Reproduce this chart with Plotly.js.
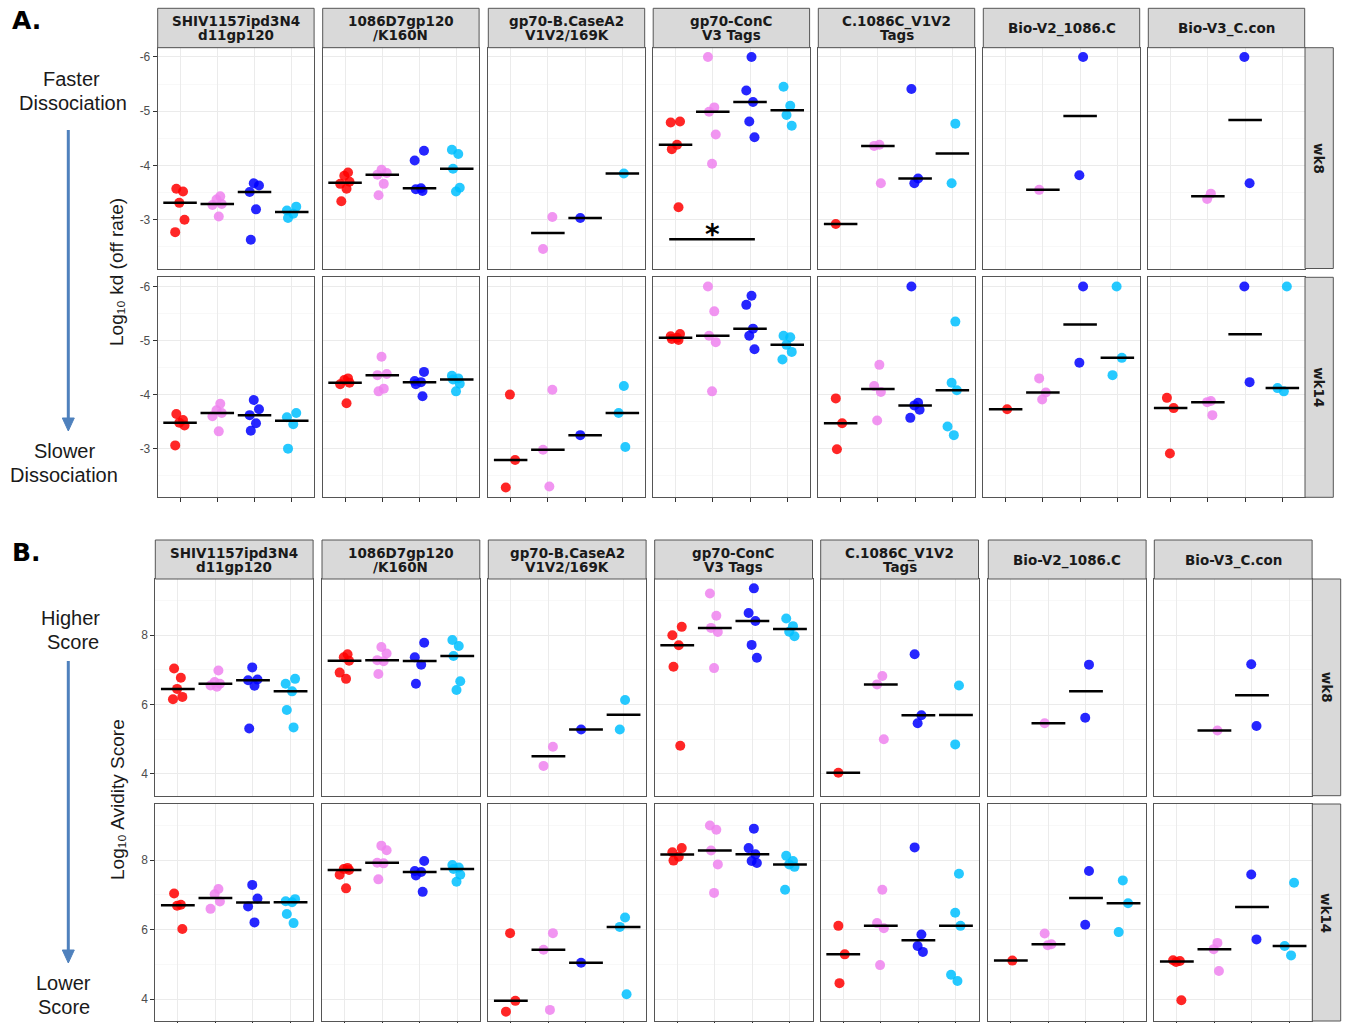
<!DOCTYPE html>
<html><head><meta charset="utf-8">
<script src="https://cdn.plot.ly/plotly-3.0.1.min.js"></script>
<style>html,body{margin:0;padding:0;background:#fff}#chart{width:1346px;height:1023px}</style>
</head><body><div id="chart"></div>
<script>
// ---------------- DATA ----------------
const antigens = [["SHIV1157ipd3N4","d11gp120"],["1086D7gp120","/K160N"],["gp70-B.CaseA2","V1V2/169K"],["gp70-ConC","V3 Tags"],["C.1086C_V1V2","Tags"],["Bio-V2_1086.C"],["Bio-V3_C.con"]];
const weeks = ["wk8","wk14"];
const groupColors = ["#ff0000","#ee82ee","#0000ff","#00bfff"];

const kdTicks = [-6,-5,-4,-3];
const kdTickText = ["-6","-5","-4","-3"];
const avidityTicks = [4,6,8];
const avidityTickText = ["4","6","8"];

// Panel A: Log10 kd (off rate), week 8, one list per antigen
const kd_wk8_red    = [[-3.57,-3.52,-3.31,-3.0,-2.77],[-3.87,-3.81,-3.70,-3.66,-3.57,-3.34],[],[-4.81,-4.79,-4.38,-4.30,-3.23],[-2.92],[],[]];
const kd_wk8_violet = [[-3.43,-3.37,-3.29,-3.27,-3.06],[-3.92,-3.86,-3.83,-3.66,-3.45],[-3.05,-2.46],[-6.0,-5.07,-4.99,-4.57,-4.03],[-4.38,-4.36,-3.67],[-3.55],[-3.48,-3.38]];
const kd_wk8_blue   = [[-3.67,-3.63,-3.51,-3.19,-2.63],[-4.27,-4.09,-3.58,-3.56,-3.53],[-3.03],[-6.0,-5.38,-5.17,-4.81,-4.52],[-5.41,-3.76,-3.67],[-6.0,-3.82],[-6.0,-3.67]];
const kd_wk8_sky    = [[-3.24,-3.17,-3.11,-3.03],[-4.29,-4.21,-3.94,-3.59,-3.52],[-3.85],[-5.45,-5.10,-4.93,-4.73],[-4.77,-3.67],[],[]];
// week 14
const kd_wk14_red    = [[-3.64,-3.53,-3.48,-3.43,-3.06],[-4.30,-4.27,-4.22,-4.19,-3.84],[-4.0,-2.79,-2.28],[-5.12,-5.08,-5.05,-5.03,-5.01],[-3.93,-3.47,-2.99],[-3.73],[-3.94,-3.75,-2.91]];
const kd_wk14_violet = [[-3.83,-3.71,-3.66,-3.60,-3.32],[-4.70,-4.38,-4.36,-4.11,-4.06],[-4.09,-2.98,-2.30],[-6.0,-5.54,-5.09,-4.97,-4.06],[-4.55,-4.16,-4.05,-3.52],[-4.30,-4.04,-3.91],[-3.88,-3.86,-3.62]];
const kd_wk14_blue   = [[-3.90,-3.73,-3.62,-3.47,-3.33],[-4.42,-4.25,-4.23,-4.19,-3.97],[-3.25],[-5.83,-5.66,-5.22,-5.09,-4.84],[-6.0,-3.85,-3.80,-3.72,-3.57],[-6.0,-4.59],[-6.0,-4.23]];
const kd_wk14_sky    = [[-3.66,-3.58,-3.45,-3.0],[-4.35,-4.30,-4.28,-4.20,-4.06],[-4.16,-3.66,-3.03],[-5.09,-5.06,-4.92,-4.79,-4.65],[-5.35,-4.22,-4.08,-3.41,-3.25],[-6.0,-4.68,-4.36],[-6.0,-4.12,-4.06]];

// Panel B: Log10 Avidity Score, week 8
const av_wk8_red    = [[7.04,6.77,6.45,6.22,6.15],[7.45,7.36,7.26,6.92,6.74],[],[8.24,8.0,7.71,7.09,4.81],[4.03],[],[]];
const av_wk8_violet = [[6.98,6.65,6.60,6.55,6.51],[7.66,7.47,7.28,7.25,6.88],[4.78,4.23],[9.20,8.56,8.21,8.09,7.05],[6.82,6.58,5.0],[5.46],[5.25]];
const av_wk8_blue   = [[7.07,6.72,6.70,6.54,5.31],[7.78,7.36,7.15,6.60],[5.28],[9.35,8.64,8.41,7.72,7.35],[7.45,5.69,5.46],[7.15,5.62],[7.16,5.38]];
const av_wk8_sky    = [[6.74,6.60,6.38,5.84,5.34],[7.86,7.69,7.40,6.67,6.42],[6.13,5.28],[8.48,8.26,8.10,7.97],[6.55,4.85],[],[]];
// week 14
const av_wk14_red    = [[7.04,6.72,6.69,6.02],[7.78,7.75,7.72,7.58,7.19],[5.90,3.95,3.64],[8.35,8.23,8.10,7.99],[6.11,5.29,4.46],[5.11],[5.12,5.10,5.07,3.97]];
const av_wk14_violet = [[7.17,7.02,6.81,6.60],[8.42,8.29,7.93,7.91,7.45],[5.90,5.42,3.69],[9.00,8.88,8.28,7.88,7.06],[7.15,6.19,6.04,4.98],[5.89,5.58,5.55],[5.62,5.44,4.81]];
const av_wk14_blue   = [[7.29,6.90,6.67,6.21],[7.98,7.69,7.66,7.56,7.09],[5.05],[8.91,8.35,8.17,7.98,7.92],[8.37,5.86,5.53,5.36],[7.69,6.14],[7.59,5.72]];
const av_wk14_sky    = [[6.88,6.82,6.79,6.45,6.19],[7.86,7.79,7.75,7.58,7.38],[6.35,6.08,4.14],[8.13,7.98,7.88,7.81,7.15],[7.61,6.49,6.11,4.70,4.52],[7.42,6.76,5.93],[7.35,5.53,5.26]];

// ---------------- BUILD ----------------
const W = 1346, H = 1023;
const px = x => x / W;
const py = y => 1 - y / H;

const sections = [
  { data: [[kd_wk8_red,kd_wk8_violet,kd_wk8_blue,kd_wk8_sky],[kd_wk14_red,kd_wk14_violet,kd_wk14_blue,kd_wk14_sky]],
    colLeft: [157.7,322.7,488.3,653.2,818.3,983.3,1148.3], width: 156.4,
    rows: [[47.7,268.5],[277.3,497.3]], stripTop: 8.3, rightStrip: [1305,1333.3],
    yrange: [-2.1,-6.17], ticks: kdTicks, tickText: kdTickText, minor: [-5.5,-4.5,-3.5,-2.5] },
  { data: [[av_wk8_red,av_wk8_violet,av_wk8_blue,av_wk8_sky],[av_wk14_red,av_wk14_violet,av_wk14_blue,av_wk14_sky]],
    colLeft: [155.3,322,488.3,654.7,820.7,988.3,1154.3], width: 157.8,
    rows: [[579,795.7],[804,1021]], stripTop: 540, rightStrip: [1312.3,1340.7],
    yrange: [3.37,9.62], ticks: avidityTicks, tickText: avidityTickText, minor: [5,7,9] }
];

const jitter = [-0.10, 0.08, -0.02, 0.12, -0.13, 0.04];
const median = a => { const s = [...a].sort((p,q)=>p-q); const m = Math.floor(s.length/2); return s.length%2 ? s[m] : (s[m-1]+s[m])/2; };

const traces = [], shapes = [], annotations = [];
const layout = {
  width: W, height: H, margin: {l:0,r:0,t:0,b:0}, paper_bgcolor: '#fff', plot_bgcolor: '#fff',
  showlegend: false, font: {family: 'Liberation Sans, Arial, sans-serif'}
};
const borderColor = '#555';
const stripFont = {family: 'DejaVu Sans, sans-serif', size: 13.5, color: '#1a1a1a', weight: 'bold'};

sections.forEach((sec, s) => {
  sec.rows.forEach((rowPx, r) => {
    for (let c = 0; c < 7; c++) {
      const n = s*14 + r*7 + c + 1;
      const xk = n === 1 ? 'xaxis' : 'xaxis' + n;
      const yk = n === 1 ? 'yaxis' : 'yaxis' + n;
      const xr = n === 1 ? 'x' : 'x' + n;
      const yr = n === 1 ? 'y' : 'y' + n;
      const L = sec.colLeft[c];
      layout[xk] = {
        domain: [px(L), px(L + sec.width)], anchor: yr, range: [0.4, 4.6],
        tickvals: [1,2,3,4], showticklabels: false,
        ticks: r === 1 ? 'outside' : '', ticklen: 4, tickcolor: '#333', tickwidth: 1,
        showgrid: true, gridcolor: '#ebebeb', gridwidth: 1, zeroline: false,
        showline: true, mirror: true, linecolor: borderColor, linewidth: 1, fixedrange: true
      };
      layout[yk] = {
        domain: [py(rowPx[1]), py(rowPx[0])], anchor: xr, range: sec.yrange,
        tickmode: 'array', tickvals: sec.ticks, ticktext: sec.tickText,
        showticklabels: c === 0, ticks: c === 0 ? 'outside' : '', ticklen: 4, tickcolor: '#333',
        tickfont: {family: 'Liberation Sans, Arial, sans-serif', size: 12, color: '#4d4d4d'},
        showgrid: true, gridcolor: '#ebebeb', gridwidth: 1, zeroline: false,
        minor: {tickmode: 'array', tickvals: sec.minor, showgrid: true, gridcolor: '#f4f4f4', gridwidth: 0.6, ticks: ''},
        showline: true, mirror: true, linecolor: borderColor, linewidth: 1, fixedrange: true
      };
      // points
      for (let g = 0; g < 4; g++) {
        const vals = sec.data[r][g][c];
        if (!vals.length) continue;
        traces.push({
          type: 'scatter', mode: 'markers', xaxis: xr, yaxis: yr, hoverinfo: 'skip',
          x: vals.map((v, i) => g + 1 + jitter[(i + g + c) % jitter.length]), y: vals,
          marker: {color: groupColors[g], size: 10, opacity: 0.85, line: {width: 0}}
        });
      }
      // median bars
      for (let g = 0; g < 4; g++) {
        const vals = sec.data[r][g][c];
        if (!vals.length) continue;
        const m = median(vals);
        traces.push({
          type: 'scatter', mode: 'lines', xaxis: xr, yaxis: yr, hoverinfo: 'skip',
          x: [g + 1 - 0.45, g + 1 + 0.45], y: [m, m],
          line: {color: '#000', width: 2.5}
        });
      }
      // column strips (top row only)
      if (r === 0) {
        shapes.push({type: 'rect', xref: 'paper', yref: 'paper', x0: px(L), x1: px(L + sec.width),
          y0: py(rowPx[0]), y1: py(sec.stripTop), fillcolor: '#d9d9d9', line: {color: borderColor, width: 1}, layer: 'above'});
        const mid = (sec.stripTop + rowPx[0]) / 2;
        const lines = antigens[c];
        const offs = lines.length === 2 ? [-6.5, 7.5] : [0.5];
        lines.forEach((t, k) => annotations.push({xref: 'paper', yref: 'paper', x: px(L + sec.width/2), y: py(mid + offs[k]),
          text: '<b>' + t + '</b>', showarrow: false, font: stripFont, xanchor: 'center', yanchor: 'middle'}));
      }
    }
    // right strip
    shapes.push({type: 'rect', xref: 'paper', yref: 'paper', x0: px(sec.rightStrip[0]), x1: px(sec.rightStrip[1]),
      y0: py(rowPx[1]), y1: py(rowPx[0]), fillcolor: '#d9d9d9', line: {color: borderColor, width: 1}, layer: 'above'});
    annotations.push({xref: 'paper', yref: 'paper', x: px((sec.rightStrip[0] + sec.rightStrip[1]) / 2), y: py((rowPx[0] + rowPx[1]) / 2),
      text: '<b>' + weeks[r] + '</b>', textangle: 90, showarrow: false, font: stripFont, xanchor: 'center', yanchor: 'middle'});
  });
});

// significance bar in gp70-ConC wk8 (section A, row 0, col 3 -> axis 4)
shapes.push({type: 'line', xref: 'x4', yref: 'y4', x0: 0.83, x1: 3.13, y0: -2.64, y1: -2.64, line: {color: '#000', width: 2.5}});
annotations.push({xref: 'x4', yref: 'y4', x: 1.98, y: -2.72, text: '<b>*</b>', showarrow: false,
  font: {family: 'DejaVu Sans, sans-serif', size: 28, color: '#000'}, xanchor: 'center', yanchor: 'middle'});

// panel letters and side labels
const sideFont = {family: 'Liberation Sans, Arial, sans-serif', size: 20, color: '#1a1a1a'};
const letterFont = {family: 'DejaVu Sans, sans-serif', size: 25, color: '#000', weight: 'bold'};
const addText = (x, y, t, font, angle) => annotations.push({xref: 'paper', yref: 'paper', x: px(x), y: py(y), text: t,
  showarrow: false, font: font, xanchor: 'center', yanchor: 'middle', textangle: angle || 0});
addText(26, 21, '<b>A.</b>', letterFont);
addText(26, 552, '<b>B.</b>', letterFont);
addText(71, 79, 'Faster', sideFont);
addText(73, 103, 'Dissociation', sideFont);
addText(64, 451, 'Slower', sideFont);
addText(64, 475, 'Dissociation', sideFont);
addText(70.5, 618, 'Higher', sideFont);
addText(73, 642, 'Score', sideFont);
addText(63.7, 983, 'Lower', sideFont);
addText(63.7, 1007, 'Score', sideFont);
const titleFont = {family: 'Liberation Sans, DejaVu Sans, Arial, sans-serif', size: 19, color: '#1a1a1a'};
addText(116, 272, 'Log\u2081\u2080 kd (off rate)', titleFont, -90);
addText(117, 800, 'Log\u2081\u2080 Avidity Score', titleFont, -90);

// arrows drawn as shapes (shaft + triangular head)
const arrowColor = '#4f81bd';
[[130, 431], [661, 963]].forEach(([y0, tip]) => {
  const x = 68.3;
  shapes.push({type: 'line', xref: 'paper', yref: 'paper', x0: px(x), x1: px(x), y0: py(y0), y1: py(tip - 10),
    line: {color: arrowColor, width: 3}});
  shapes.push({type: 'path', xref: 'paper', yref: 'paper',
    path: `M ${px(x-6)} ${py(tip-13)} L ${px(x+6)} ${py(tip-13)} L ${px(x)} ${py(tip)} Z`,
    fillcolor: arrowColor, line: {color: arrowColor, width: 1}});
});

layout.shapes = shapes;
layout.annotations = annotations;

Plotly.newPlot('chart', traces, layout, {staticPlot: true, displayModeBar: false});
</script>
</body></html>
